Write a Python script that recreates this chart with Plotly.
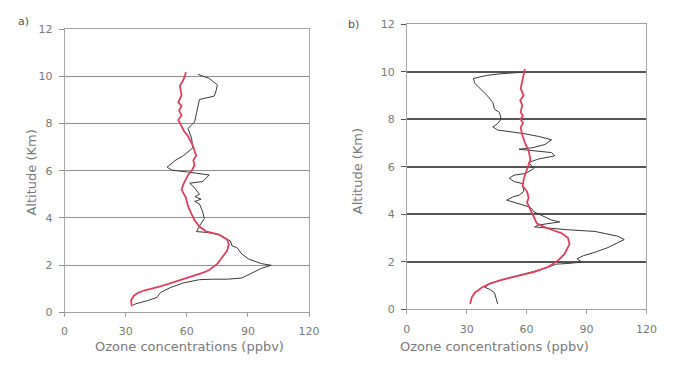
import plotly.graph_objects as go

# ---- data (ozone ppbv, altitude km) ----
a_red_x = [33, 32.6, 34, 36, 39, 43, 47, 51, 55, 60, 64.7, 68, 71, 73, 75, 77.4, 79.8, 80.6, 79.8,
           75.8, 69.4, 66.2, 63.8, 62.2, 60.5, 59.5, 57.4, 58.2, 59.4, 60.6, 62.4, 63.8, 63.2, 64.6,
           63.0, 61.8, 60.6, 58.8, 57.4, 55.8, 57.4, 56.2, 57.4, 55.8, 57.4, 56.6, 58.0, 59.0, 59.5]
a_red_y = [0.25, 0.5, 0.7, 0.82, 0.92, 1.0, 1.1, 1.2, 1.31, 1.45, 1.58, 1.68, 1.79, 1.92, 2.06, 2.33,
           2.61, 2.88, 3.08, 3.29, 3.43, 3.63, 3.9, 4.18, 4.52, 4.86, 5.2, 5.41, 5.6, 5.82, 6.0, 6.23,
           6.45, 6.64, 7.05, 7.25, 7.46, 7.65, 7.87, 8.15, 8.35, 8.55, 8.75, 8.9, 9.2, 9.6, 9.8, 10.0, 10.18]

a_blk_x = [33.5, 35, 40.6, 45.4, 47, 51.8, 58.2, 66.2, 73, 80, 87, 91.8, 96.6, 101.4, 96.6, 90.2,
           87, 84.6, 82.2, 81.4, 79, 75.8, 70, 64.7, 66.5, 68.6, 67.8, 66.2, 63.8, 67, 64, 66.2,
           63.5, 61.4, 67.8, 71, 59.9, 52.7, 50.3, 54.2, 58.2, 63, 62.3, 60.6, 63.8, 64.6, 65.4,
           66.2, 73.4, 74.3, 75, 71, 65.4]
a_blk_y = [0.3, 0.36, 0.49, 0.63, 0.83, 1.04, 1.24, 1.38, 1.4, 1.4, 1.45, 1.65, 1.86, 1.99, 2.06, 2.26,
           2.47, 2.74, 2.81, 3.02, 3.15, 3.29, 3.38, 3.42, 3.7, 3.97, 4.25, 4.59, 4.7, 4.79, 4.9, 5.0,
           5.3, 5.47, 5.54, 5.82, 5.95, 6.02, 6.15, 6.43, 6.63, 6.97, 7.38, 7.79, 8.07, 8.41, 8.75,
           9.02, 9.16, 9.37, 9.64, 9.91, 10.09]

b_red_x = [31.7, 32.5, 34.1, 37.4, 41.5, 48, 56.2, 64.3, 70.9, 75.8, 79, 81.5, 80.7, 77.4, 72.5,
           68.4, 65.1, 63.5, 61.8, 60.2, 61, 60.2, 58, 58.6, 60.2, 61.9, 61, 59.4, 58, 57, 58.2, 57,
           58.2, 57, 57.8, 56.8, 58.5, 57, 58, 59.1]
b_red_y = [0.23, 0.5, 0.7, 0.91, 1.08, 1.25, 1.42, 1.59, 1.79, 2.06, 2.33, 2.74, 3.01, 3.21, 3.35,
           3.48, 3.62, 3.89, 4.23, 4.5, 4.7, 4.96, 5.2, 5.5, 5.9, 6.3, 6.7, 6.96, 7.3, 7.64, 7.85, 8.0,
           8.15, 8.3, 8.6, 8.8, 9.0, 9.3, 9.67, 10.12]

b_blk_x = [45.5, 44.7, 43.9, 41.5, 39, 41, 45, 50, 56, 63, 70, 74.6, 80.7, 87.7, 85.2, 88.5, 94.2,
           100.7, 105.6, 108.9, 105.6, 94.2, 80.7, 64, 66, 76.6, 72.5, 67.6, 64, 61.8, 57, 50, 53.5,
           56.2, 58.6, 57.8, 53.7, 51.3, 53.7, 59.4, 63.5, 61.1, 66, 74.1, 72.5, 64.3, 56.2, 62.7,
           69.2, 72.5, 66, 57.8, 51.3, 45.5, 43.1, 45.5, 47.2, 46.4, 43.9, 43.1, 40.6, 37.4, 34.1,
           33.3, 40, 47.2, 53, 58.6]
b_blk_y = [0.23, 0.5, 0.7, 0.84, 0.93, 1.05, 1.18, 1.3, 1.42, 1.58, 1.75, 1.9, 1.93, 1.99, 2.13, 2.26,
           2.4, 2.6, 2.8, 2.94, 3.08, 3.28, 3.35, 3.47, 3.55, 3.68, 3.76, 3.96, 4.09, 4.3, 4.43, 4.6,
           4.75, 4.8, 4.97, 5.3, 5.38, 5.52, 5.65, 5.72, 5.92, 6.19, 6.33, 6.46, 6.6, 6.67, 6.74, 6.8,
           6.94, 7.14, 7.28, 7.41, 7.48, 7.55, 7.68, 7.82, 8.02, 8.29, 8.43, 8.7, 8.97, 9.24, 9.51,
           9.72, 9.85, 9.92, 9.95, 9.99]

x_ticks = [0, 30, 60, 90, 120]
y_ticks = [0, 2, 4, 6, 8, 10, 12]
panel_labels = ["a)", "b)"]
x_title = "Ozone concentrations (ppbv)"
y_title = "Altitude (Km)"

RED = "#e0405f"
BLK = "#3a3a3a"
TXT = "#7a7a7a"
FONT = "DejaVu Sans, sans-serif"

fig = go.Figure()
fig.add_trace(go.Scatter(x=a_blk_x, y=a_blk_y, mode="lines", line=dict(color=BLK, width=1),
                         xaxis="x", yaxis="y", showlegend=False))
fig.add_trace(go.Scatter(x=a_red_x, y=a_red_y, mode="lines", line=dict(color=RED, width=1.8),
                         xaxis="x", yaxis="y", showlegend=False))
fig.add_trace(go.Scatter(x=b_blk_x, y=b_blk_y, mode="lines", line=dict(color=BLK, width=1),
                         xaxis="x2", yaxis="y2", showlegend=False))
fig.add_trace(go.Scatter(x=b_red_x, y=b_red_y, mode="lines", line=dict(color=RED, width=1.8),
                         xaxis="x2", yaxis="y2", showlegend=False))

W, H = 675, 382


def xax(domain, anchor):
    return dict(domain=domain, anchor=anchor, range=[0, 120], tickvals=x_ticks,
                ticktext=[str(v) for v in x_ticks], showgrid=False, zeroline=False,
                showline=True, linecolor="#a0a0a0", linewidth=1, mirror=True,
                ticks="outside", ticklen=4, tickcolor="#a0a0a0", ticklabelstandoff=5,
                tickfont=dict(family=FONT, size=11, color=TXT), fixedrange=True)


def yax(domain, anchor, gridcolor, gw):
    return dict(domain=domain, anchor=anchor, range=[0, 12], tickvals=y_ticks,
                ticktext=[str(v) for v in y_ticks], showgrid=True, gridcolor=gridcolor,
                gridwidth=gw, zeroline=False, showline=True, linecolor="#a8a8a8",
                linewidth=1, mirror=True, ticks="outside", ticklen=5, tickcolor=gridcolor,
                ticklabelstandoff=4,
                tickfont=dict(family=FONT, size=11, color=TXT), fixedrange=True)


def ann(text, x, y, angle=0, color=TXT, size=13):
    return dict(text=text, x=x / W, y=1 - y / H, xref="paper", yref="paper",
                xanchor="center", yanchor="middle", textangle=angle, showarrow=False,
                font=dict(family=FONT, size=size, color=color))


fig.update_layout(
    width=W, height=H, margin=dict(l=0, r=0, t=0, b=0),
    paper_bgcolor="white", plot_bgcolor="white",
    xaxis=xax([62 / W, 312 / W], "y"),
    yaxis=yax([1 - 317 / H, 1 - 24 / H], "x", "#8e8e8e", 1.3),
    xaxis2=xax([412 / W, 657 / W], "y2"),
    yaxis2=yax([1 - 314 / H, 1 - 19 / H], "x2", "#555555", 1.6),
    annotations=[
        ann(panel_labels[0], 20, 16, color="#555", size=11),
        ann(panel_labels[1], 357, 19, color="#555", size=11),
        ann(x_title, 190, 352),
        ann(x_title, 502, 352),
        ann(y_title, 28, 172, angle=-90),
        ann(y_title, 361, 171, angle=-90),
    ],
)

fig.write_html("out.html")
